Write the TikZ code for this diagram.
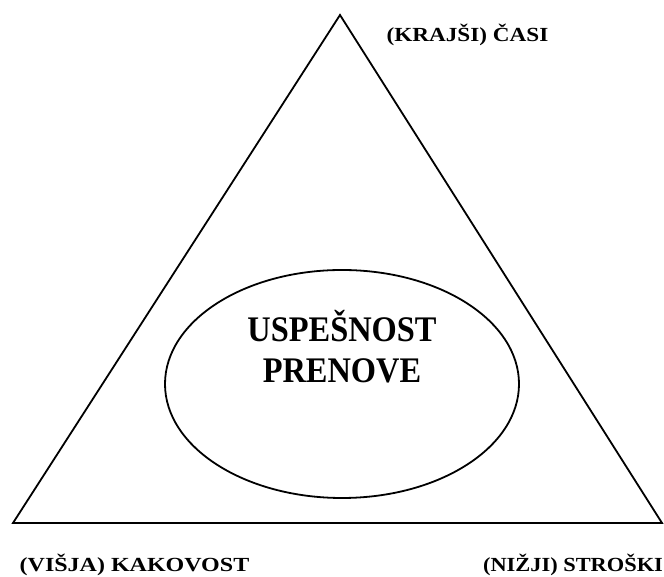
\documentclass[tikz,border=0pt]{standalone}
\usepackage{fontspec}
\setmainfont{Liberation Serif}
\usetikzlibrary{shapes.geometric}

\begin{document}
\begin{tikzpicture}[x=1pt,y=1pt,line width=1.8pt,
    oznaka/.style={anchor=base, inner sep=0pt, font=\bfseries\fontsize{20}{24}\selectfont}]
  \useasboundingbox (0,0) rectangle (664,577);
  \coordinate (vrh) at (340,562);
  \coordinate (levo) at (13,54);
  \coordinate (desno) at (662,54);
  \draw (vrh) -- (levo) -- (desno) -- cycle;
  \node[draw, ellipse, minimum width=354pt, minimum height=228pt, inner sep=0pt] (elipsa) at (342,193) {};
  \node[anchor=base, align=center, inner sep=0pt, font=\bfseries\fontsize{36}{41}\selectfont] (uspeh) at (342,194)
    {\scalebox{0.9}[1]{USPEŠNOST}\\\scalebox{0.9}[1]{PRENOVE}};
  \node[oznaka] (casi) at (467.5,535) {\scalebox{1.16}[1]{(KRAJŠI) ČASI}};
  \node[oznaka] (kakovost) at (134.5,5) {\scalebox{1.2}[1]{(VIŠJA) KAKOVOST}};
  \node[oznaka] (stroski) at (573,5) {\scalebox{1.12}[1]{(NIŽJI) STROŠKI}};
\end{tikzpicture}
\end{document}
